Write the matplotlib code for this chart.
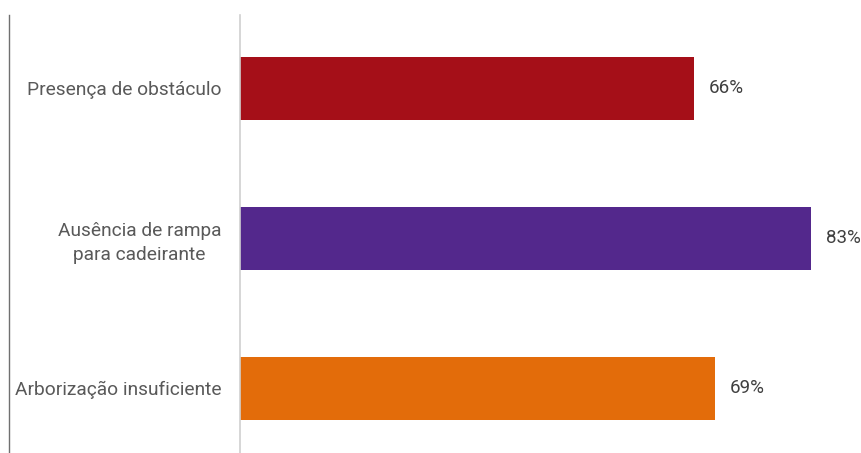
import matplotlib
matplotlib.use("Agg")
import matplotlib.pyplot as plt
from matplotlib.lines import Line2D

categories = ["Presença de obstáculo", "Ausência de rampa\npara cadeirante", "Arborização insuficiente"]
values = [66, 83, 69]
colors = ["#A50F18", "#53288C", "#E36C0A"]

W, H = 862, 453
fig = plt.figure(figsize=(W / 100, H / 100), dpi=100)
ax_left, ax_right, ax_top, ax_bottom = 240.5, 860, 15, 453
ax = fig.add_axes([ax_left / W, 1 - ax_bottom / H, (ax_right - ax_left) / W, (ax_bottom - ax_top) / H])

pos = list(range(len(categories)))
ax.barh(pos, values, height=0.42, color=colors)
ax.set_xlim(0, (ax_right - 241) / 6.87)
ax.set_ylim((ax_bottom - 88) / 150, (ax_top - 88) / 150)

font = "Roboto"
for p, v in zip(pos, values):
    ax.text(v + 2.1, p, f"{v}%", va="center", ha="left", fontsize=13.5, family=font, color="#404040")

ax.set_yticks(pos)
ax.set_yticklabels(categories, fontsize=13.8, family=font, color="#595959",
                   multialignment="center", linespacing=1.45)
ax.tick_params(axis="y", length=0, pad=14)
ax.set_xticks([])
for s in ["top", "right", "bottom"]:
    ax.spines[s].set_visible(False)
ax.spines["left"].set_color("#d0d0d0")
ax.spines["left"].set_linewidth(1.2)

fig.add_artist(Line2D([9.5 / W, 9.5 / W], [0, 1 - 15 / H], color="#707070", linewidth=1.0, transform=fig.transFigure))

fig.savefig("out.png", dpi=100)
